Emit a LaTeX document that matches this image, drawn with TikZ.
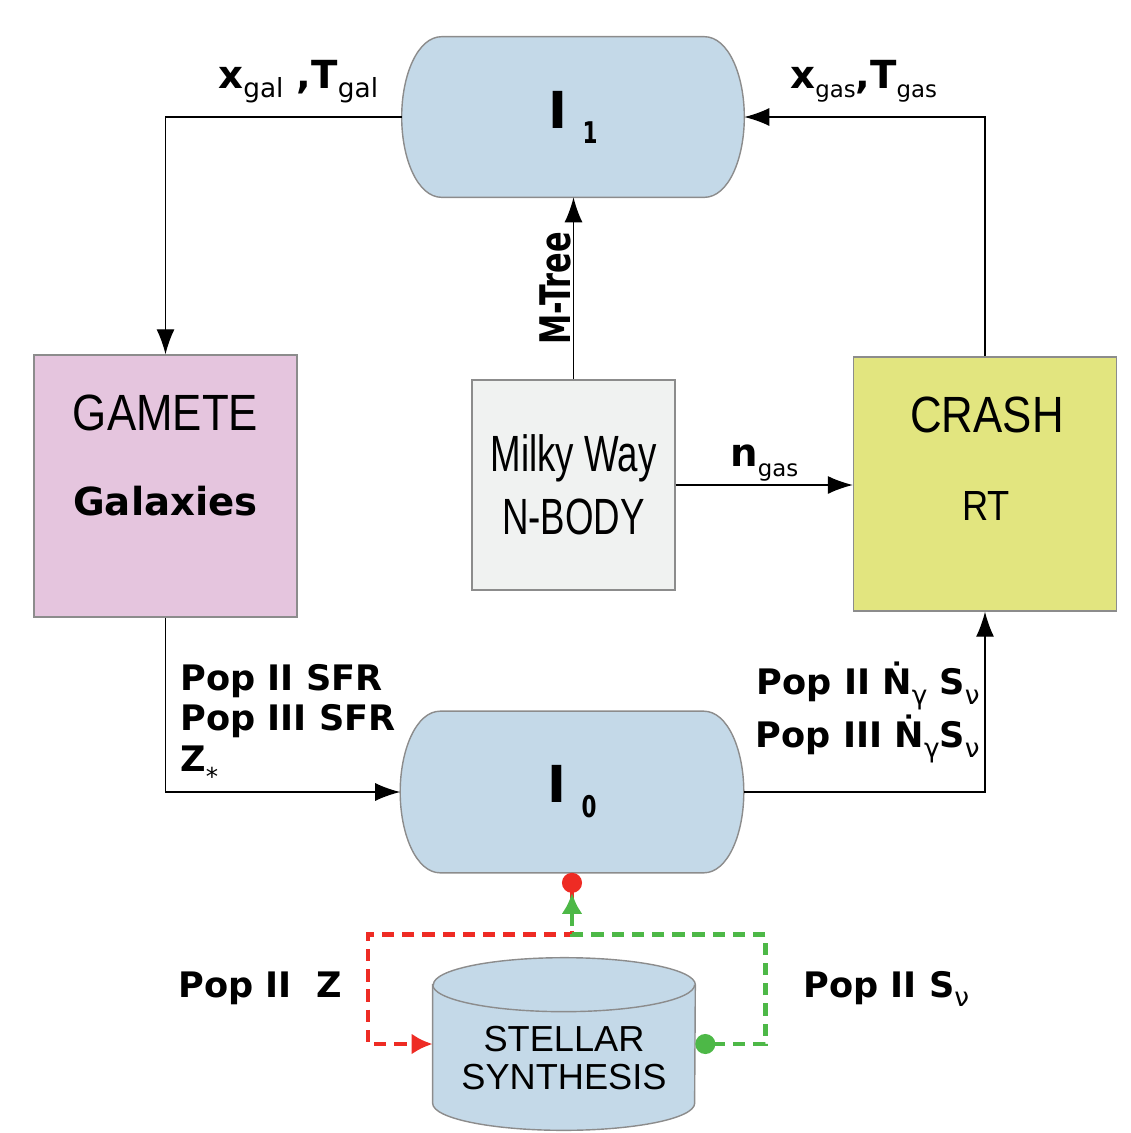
\documentclass[tikz,border=0pt]{standalone}
\usepackage{fontspec}
\usepackage{tikz}
\usetikzlibrary{arrows.meta,positioning,calc,backgrounds}
\setmainfont{DejaVu Sans}
\newfontfamily\boxfont[FakeStretch=0.86]{Liberation Sans}
\newfontfamily\nbodyfont[FakeStretch=0.72]{Liberation Sans}
\newfontfamily\ssfont{Liberation Sans}
\newfontfamily\condfont[FakeStretch=0.72]{DejaVu Sans}
\definecolor{iblue}    {HTML}{C4D9E8}
\definecolor{gamfill}  {HTML}{E5C5DE}
\definecolor{nbfill}   {HTML}{F0F2F1}
\definecolor{crashfill}{HTML}{E2E57F}
\definecolor{edgegray} {HTML}{8C8C8C}
\definecolor{zred}     {HTML}{EE2B24}
\definecolor{sgreen}   {HTML}{4DB847}
\newcommand{\lsub}[2][13]{\raisebox{-5.5pt}{\mdseries\fontsize{#1}{#1}\selectfont #2}}
\newcommand{\ilabel}[1]{{\fontsize{29}{30}\selectfont\bfseries I}\hspace{0.3cm}\raisebox{-8.5pt}{\condfont\bfseries\fontsize{17}{17}\selectfont #1}}

\begin{document}
\begin{tikzpicture}[x=0.02cm,y=-0.02cm,
    flow/.style={draw=black,line width=0.75pt,-{Latex[length=0.5cm,width=0.36cm]}},
    pill/.style={fill=iblue,draw=edgegray,line width=0.8pt},
    block/.style={draw=edgegray,line width=0.8pt,inner sep=0pt},
    tag/.style={font=\fontsize{20}{23}\selectfont\bfseries,inner sep=0pt},
    zpath/.style={draw=zred,line width=2.8pt,dash pattern=on 7pt off 4.5pt,
                  {Circle[length=0.4cm]}-{Latex[length=0.42cm,width=0.42cm]}},
    spath/.style={draw=sgreen,line width=2.8pt,dash pattern=on 7pt off 4.5pt,
                  {Circle[length=0.4cm]}-{Latex[length=0.42cm,width=0.42cm]}}]
  \useasboundingbox (0,0) rectangle (1131,1133);

  % integrators
  \node[inner sep=0pt,minimum width=6.84cm,minimum height=3.2cm] (I1) at (573,117) {\ilabel{1}};
  \node[inner sep=0pt,minimum width=6.86cm,minimum height=3.22cm] (I0) at (572,792) {\ilabel{0}};

  % codes
  \node[block,fill=gamfill,minimum width=5.26cm,minimum height=5.24cm] (gamete) at (165.5,486) {};
  \node[anchor=base,inner sep=0pt,font=\boxfont\fontsize{29}{30}\selectfont] (gameteTitle) at (165.5,430) {GAMETE};
  \node[anchor=base,inner sep=0pt,font=\fontsize{22}{24}\selectfont\bfseries] (gameteSub) at (165.5,515) {Galaxies};

  \node[block,fill=nbfill,minimum width=4.06cm,minimum height=4.2cm,align=center,
        font=\nbodyfont\fontsize{29}{35.7}\selectfont] (mw) at (573.5,485) {Milky Way\\N-BODY};

  \node[block,fill=crashfill,minimum width=5.26cm,minimum height=5.08cm] (crash) at (985,484) {};
  \node[anchor=base,inner sep=0pt,font=\boxfont\fontsize{29}{30}\selectfont] (crashTitle) at (987,432) {CRASH};
  \node[anchor=base,inner sep=0pt,font=\boxfont\fontsize{24}{26}\selectfont] (crashSub) at (986,520) {RT};

  \node[minimum width=5.24cm,minimum height=3.44cm,inner sep=0pt] (ss) at (564,1044) {};
  \node[align=center,inner sep=0pt,font=\ssfont\fontsize{20.6}{21.5}\selectfont] (ssText) at (564,1058) {STELLAR\\SYNTHESIS};

  \begin{scope}[on background layer]
    \foreach \n in {I1,I0}{
      \draw[pill] ($(\n.north west)+(40,0)$) -- ($(\n.north east)+(-40,0)$)
        .. controls ($(\n.north east)+(-16,0)$) and ($(\n.east)+(0,-42)$) .. (\n.east)
        .. controls ($(\n.east)+(0,42)$) and ($(\n.south east)+(-16,0)$) .. ($(\n.south east)+(-40,0)$)
        -- ($(\n.south west)+(40,0)$)
        .. controls ($(\n.south west)+(16,0)$) and ($(\n.west)+(0,42)$) .. (\n.west)
        .. controls ($(\n.west)+(0,-42)$) and ($(\n.north west)+(16,0)$) .. cycle;
    }
    \draw[fill=iblue,draw=edgegray,line width=0.8pt]
      ($(ss.north west)+(0,27)$) -- ($(ss.south west)+(0,-27)$)
      arc[start angle=180,end angle=360,x radius=2.62cm,y radius=0.54cm]
      -- ($(ss.north east)+(0,27)$)
      arc[start angle=0,end angle=180,x radius=2.62cm,y radius=0.54cm] -- cycle;
    \draw[draw=edgegray,line width=0.8pt] ($(ss.north west)+(0,27)$)
      arc[start angle=180,end angle=360,x radius=2.62cm,y radius=0.54cm];
  \end{scope}

  % data flow
  \draw[flow] (I1.west) -| (gamete.north);
  \draw[flow] (crash.north) |- (I1.east);
  \draw[flow] (mw.north) -- node[midway,sloped,above,inner sep=1pt,
        font=\condfont\fontsize{24}{25}\selectfont\bfseries] (mtree) {M-Tree} (mw.north |- I1.south);
  \draw[flow] (mw.east) -- node[above,inner sep=2pt,font=\fontsize{22}{24}\selectfont\bfseries]
        (ngas) {n\lsub{gas}} (mw.east -| crash.west);
  \draw[flow] (gamete.south) |- (I0.west);
  \draw[flow] (I0.east) -| (crash.south);

  \node[anchor=base west,inner sep=0pt,font=\fontsize{22}{24}\selectfont\bfseries] (xgal) at (218,88)
    {x\lsub[15]{gal} ,T\lsub[15]{gal}};
  \node[anchor=base west,inner sep=0pt,font=\fontsize{22}{24}\selectfont\bfseries] (xgas) at (790,88)
    {x\lsub{gas},T\lsub{gas}};

  \node[tag,anchor=north west,align=left] (popSfr) at (180,664)
    {Pop II SFR\\Pop III SFR\\Z\raisebox{-8pt}{\mdseries\fontsize{14}{14}\selectfont *}};
  \node[tag,anchor=north east,align=right,font=\fontsize{20}{30}\selectfont\bfseries] (popNdot) at (980,662)
    {Pop II Ṅ\lsub[15]{γ} S\lsub[15]{ν}\\Pop III Ṅ\lsub[15]{γ}S\lsub[15]{ν}};

  % stellar synthesis loop
  \coordinate (split) at ($(I0.south)+(0,62)$);
  \coordinate (gtip) at ($(I0.south)+(0,20)$);
  \draw[zpath] (I0.south) -- (split) -- ++(-204,0) |- (ss.west);
  \draw[spath] (ss.east) -- ++(70,0) |- (split) -- (gtip);

  \node[tag,anchor=base west] (popZ) at (178,997) {Pop II\ \ Z};
  \node[tag,anchor=base west] (popS) at (803,997) {Pop II S\lsub[15]{ν}};
\end{tikzpicture}
\end{document}
